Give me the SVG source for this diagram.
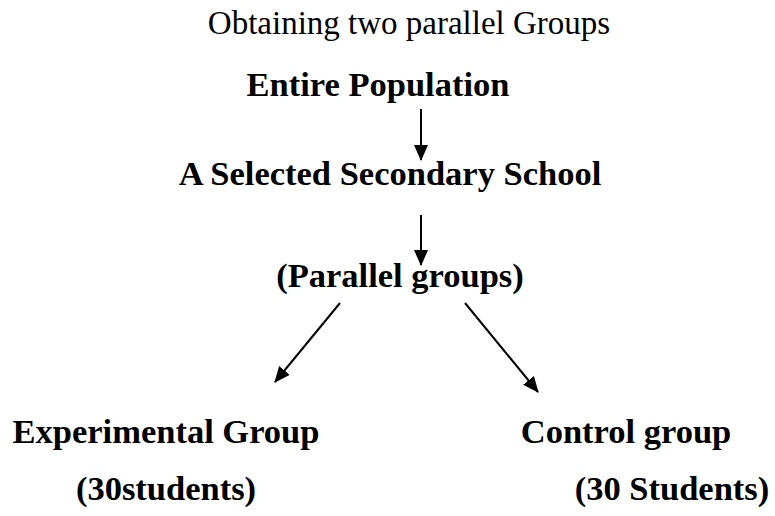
<svg xmlns="http://www.w3.org/2000/svg" width="775" height="516" viewBox="0 0 775 516">
<style>
text{font-family:"Liberation Serif","Times New Roman",serif;fill:#000;text-anchor:middle}
.t{font-size:33px}
.b{font-size:34.5px;font-weight:bold}
.c line{stroke:#000;stroke-width:2}
</style>
<defs>
<marker id="ah" markerWidth="16" markerHeight="14" refX="15" refY="7" orient="auto" markerUnits="userSpaceOnUse" viewBox="0 0 16 14">
<path d="M0,0 L16,7 L0,14 z" fill="#000"/>
</marker>
</defs>
<rect width="775" height="516" fill="#fff"/>
<g id="title"><text class="t" x="409" y="34">Obtaining two parallel Groups</text></g>
<g id="n1"><text class="b" x="378" y="96">Entire Population</text></g>
<g id="n2"><text class="b" x="390" y="185">A Selected Secondary School</text></g>
<g id="n3"><text class="b" x="400" y="287">(Parallel groups)</text></g>
<g id="n4"><text class="b" x="166" y="443">Experimental Group</text><text class="b" x="166" y="500">(30students)</text></g>
<g id="n5"><text class="b" x="626" y="443">Control group</text><text class="b" x="672" y="500">(30 Students)</text></g>
<g class="c" id="connectors">
<line x1="421" y1="109" x2="421" y2="160" marker-end="url(#ah)"/>
<line x1="421" y1="215" x2="421" y2="265" marker-end="url(#ah)"/>
<line x1="340" y1="303" x2="275" y2="382" marker-end="url(#ah)"/>
<line x1="465" y1="303" x2="538" y2="392" marker-end="url(#ah)"/>
</g>
</svg>
